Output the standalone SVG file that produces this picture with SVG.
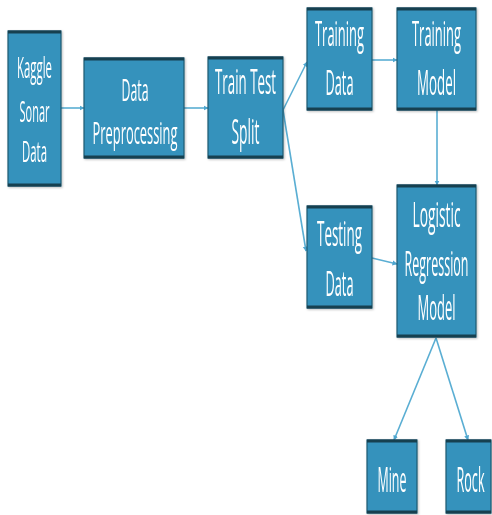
<svg xmlns="http://www.w3.org/2000/svg" width="492" height="515" viewBox="0 0 492 515">
  <style>
    .box { fill: #3592bc; stroke: #1f5a72; stroke-width: 1.2; }
    .edge-top { stroke: #173f50; stroke-width: 3; }
    .lbl { font-family: "Open Sans", "Liberation Sans", sans-serif; font-size: 34px; fill: #ffffff; text-anchor: middle; }
    .sm { font-size: 30px; }
    .md { font-size: 31px; }
    .conn { stroke: #5aaed3; stroke-width: 1.6; fill: none; }
  </style>
  <defs>
    <marker id="arrow" viewBox="0 0 10 10" refX="9" refY="5" markerWidth="5" markerHeight="6" orient="auto" markerUnits="userSpaceOnUse">
      <path d="M0,0 L10,5 L0,10 z" fill="#4ea6cf"/>
    </marker>
    <filter id="shadow" x="-10%" y="-10%" width="130%" height="130%">
      <feDropShadow dx="1" dy="1" stdDeviation="1" flood-color="#000" flood-opacity="0.25"/>
    </filter>
  </defs>
  <rect width="492" height="515" fill="#ffffff"/>

  <g id="connectors">
    <line class="conn" x1="61" y1="108" x2="84" y2="108" marker-end="url(#arrow)"/>
    <line class="conn" x1="184" y1="108" x2="208" y2="108" marker-end="url(#arrow)"/>
    <line class="conn" x1="283" y1="110" x2="307" y2="62" marker-end="url(#arrow)"/>
    <line class="conn" x1="283" y1="110" x2="306" y2="251" marker-end="url(#arrow)"/>
    <line class="conn" x1="372" y1="60" x2="397" y2="60" marker-end="url(#arrow)"/>
    <line class="conn" x1="437" y1="110" x2="437" y2="185" marker-end="url(#arrow)"/>
    <line class="conn" x1="372" y1="258" x2="397" y2="264" stroke-width="3" marker-end="url(#arrow)"/>
    <line class="conn" x1="436" y1="338" x2="394" y2="440" marker-end="url(#arrow)"/>
    <line class="conn" x1="436" y1="338" x2="468" y2="440" marker-end="url(#arrow)"/>
  </g>

  <!-- labels are drawn at a 0.4 horizontal scale, so textLength is 2.5x the drawn width -->
  <g id="kaggle" filter="url(#shadow)">
    <rect class="box" x="8" y="31" width="53" height="155"/>
    <line class="edge-top" x1="8" y1="32" x2="61" y2="32"/>
    <line class="edge-top" x1="8" y1="185" x2="61" y2="185"/>
    <text class="lbl sm" transform="translate(34.5,78) scale(0.4,1)" textLength="87.5" lengthAdjust="spacingAndGlyphs">Kaggle</text>
    <text class="lbl sm" transform="translate(34.5,122) scale(0.4,1)" textLength="75" lengthAdjust="spacingAndGlyphs">Sonar</text>
    <text class="lbl sm" transform="translate(34.5,162) scale(0.4,1)" textLength="62.5" lengthAdjust="spacingAndGlyphs">Data</text>
  </g>

  <g id="preprocessing" filter="url(#shadow)">
    <rect class="box" x="84" y="58" width="100" height="100"/>
    <line class="edge-top" x1="84" y1="59" x2="184" y2="59"/>
    <line class="edge-top" x1="84" y1="157" x2="184" y2="157"/>
    <text class="lbl md" transform="translate(135,101) scale(0.4,1)" textLength="67.5" lengthAdjust="spacingAndGlyphs">Data</text>
    <text class="lbl md" transform="translate(135,144) scale(0.4,1)" textLength="212.5" lengthAdjust="spacingAndGlyphs">Preprocessing</text>
  </g>

  <g id="split" filter="url(#shadow)">
    <rect class="box" x="208" y="57" width="75" height="101"/>
    <line class="edge-top" x1="208" y1="58" x2="283" y2="58"/>
    <line class="edge-top" x1="208" y1="157" x2="283" y2="157"/>
    <text class="lbl" transform="translate(245.5,94) scale(0.4,1)" textLength="152.5" lengthAdjust="spacingAndGlyphs">Train Test</text>
    <text class="lbl" transform="translate(245.5,144) scale(0.4,1)" textLength="70" lengthAdjust="spacingAndGlyphs">Split</text>
  </g>

  <g id="training-data" filter="url(#shadow)">
    <rect class="box" x="307" y="8" width="65" height="102"/>
    <line class="edge-top" x1="307" y1="9" x2="372" y2="9"/>
    <line class="edge-top" x1="307" y1="109" x2="372" y2="109"/>
    <text class="lbl" transform="translate(339.5,46) scale(0.4,1)" textLength="122.5" lengthAdjust="spacingAndGlyphs">Training</text>
    <text class="lbl" transform="translate(339.5,95) scale(0.4,1)" textLength="70" lengthAdjust="spacingAndGlyphs">Data</text>
  </g>

  <g id="training-model" filter="url(#shadow)">
    <rect class="box" x="397" y="8" width="79" height="102"/>
    <line class="edge-top" x1="397" y1="9" x2="476" y2="9"/>
    <line class="edge-top" x1="397" y1="109" x2="476" y2="109"/>
    <text class="lbl" transform="translate(436.5,46) scale(0.4,1)" textLength="122.5" lengthAdjust="spacingAndGlyphs">Training</text>
    <text class="lbl" transform="translate(436.5,95) scale(0.4,1)" textLength="97.5" lengthAdjust="spacingAndGlyphs">Model</text>
  </g>

  <g id="testing-data" filter="url(#shadow)">
    <rect class="box" x="307" y="206" width="65" height="102"/>
    <line class="edge-top" x1="307" y1="207" x2="372" y2="207"/>
    <line class="edge-top" x1="307" y1="307" x2="372" y2="307"/>
    <text class="lbl" transform="translate(339.5,246) scale(0.4,1)" textLength="112.5" lengthAdjust="spacingAndGlyphs">Testing</text>
    <text class="lbl" transform="translate(339.5,296) scale(0.4,1)" textLength="70" lengthAdjust="spacingAndGlyphs">Data</text>
  </g>

  <g id="logistic" filter="url(#shadow)">
    <rect class="box" x="397" y="185" width="79" height="152"/>
    <line class="edge-top" x1="397" y1="186" x2="476" y2="186"/>
    <line class="edge-top" x1="397" y1="336" x2="476" y2="336"/>
    <text class="lbl" transform="translate(436.5,227) scale(0.4,1)" textLength="120" lengthAdjust="spacingAndGlyphs">Logistic</text>
    <text class="lbl" transform="translate(436.5,276) scale(0.4,1)" textLength="160" lengthAdjust="spacingAndGlyphs">Regression</text>
    <text class="lbl" transform="translate(436.5,320) scale(0.4,1)" textLength="95" lengthAdjust="spacingAndGlyphs">Model</text>
  </g>

  <g id="mine" filter="url(#shadow)">
    <rect class="box" x="367" y="440" width="50" height="73"/>
    <line class="edge-top" x1="367" y1="441" x2="417" y2="441"/>
    <line class="edge-top" x1="367" y1="512" x2="417" y2="512"/>
    <text class="lbl" transform="translate(392,492) scale(0.4,1)" textLength="72.5" lengthAdjust="spacingAndGlyphs">Mine</text>
  </g>

  <g id="rock" filter="url(#shadow)">
    <rect class="box" x="446" y="440" width="45" height="73"/>
    <line class="edge-top" x1="446" y1="441" x2="491" y2="441"/>
    <line class="edge-top" x1="446" y1="512" x2="491" y2="512"/>
    <text class="lbl" transform="translate(470.5,492) scale(0.4,1)" textLength="70" lengthAdjust="spacingAndGlyphs">Rock</text>
  </g>
</svg>
